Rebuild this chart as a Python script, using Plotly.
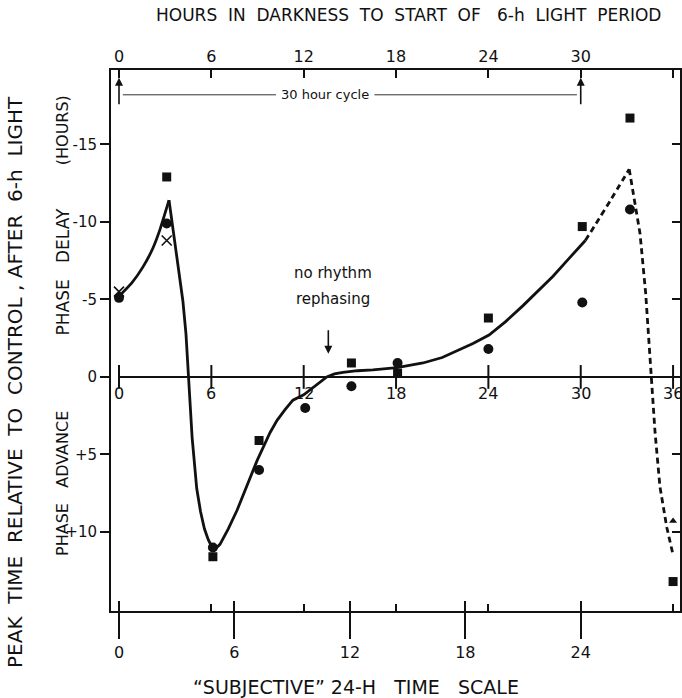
import plotly.graph_objects as go

# ---- data -------------------------------------------------------------
# hours in darkness before the 6-h light period
dark_ticks = [0, 6, 12, 18, 24, 30, 36]
# subjective 24-h scale (30 real hours = 24 subjective hours)
subj_ticks = [0, 6, 12, 18, 24]
subj_labels = ["0", "6", "12", "18", "24"]
subj_factor = 30 / 24

y_ticks = [-15, -10, -5, 0, 5, 10]
y_labels = ["-15", "-10", "-5", "0", "+5", "+10"]

# phase shifts (hours); negative = delay, positive = advance
sq_h = [3.1, 6.1, 9.1, 15.1, 18.1, 24.0, 30.1, 33.2, 36.0]
sq_v = [-12.9, 11.6, 4.1, -0.9, -0.25, -3.8, -9.7, -16.7, 13.2]

ci_h = [0.0, 3.1, 6.1, 9.1, 12.1, 15.1, 18.1, 24.0, 30.1, 33.2]
ci_v = [-5.1, -9.9, 11.0, 6.0, 2.0, 0.6, -0.9, -1.8, -4.8, -10.8]

x_h = [0.0, 3.1]
x_v = [-5.5, -8.8]

tri_h = [36.0]
tri_v = [9.3]

# fitted response curve, drawn piecewise
fit_a_h = [0.0, 0.82, 1.56, 2.2, 2.66, 3.25]
fit_a_v = [-5.2, -6.05, -7.1, -8.3, -9.5, -11.4]

fit_b_h = [3.25, 3.45, 3.65, 3.96, 4.15, 4.35, 4.5, 4.75, 5.05, 5.3, 5.55,
           5.8, 6.05, 6.3, 6.56, 7.1, 7.67, 8.3, 8.97, 9.81, 10.27, 10.8,
           11.3, 12.0, 12.8, 13.5, 14.0, 14.55, 15.5, 16.5, 18.06, 19.75,
           21.0, 21.96, 23.0, 24.04, 25.1, 26.25, 27.2, 28.2, 29.2, 30.3]
fit_b_v = [-11.4, -10.0, -8.6, -6.4, -4.9, -2.8, 0.0, 3.9, 7.2, 8.7, 9.8,
           10.5, 11.0, 11.05, 10.8, 9.8, 8.6, 7.0, 5.4, 3.6, 2.8, 2.1,
           1.5, 1.15, 0.55, 0.0, -0.2, -0.3, -0.4, -0.45, -0.6, -0.9,
           -1.25, -1.7, -2.15, -2.7, -3.55, -4.6, -5.5, -6.5, -7.6, -8.8]

fit_c_h = [30.3, 31.0, 32.0, 33.15]
fit_c_v = [-8.8, -9.9, -11.5, -13.4]

fit_d_h = [33.15, 33.42, 33.85, 34.22, 34.39, 34.61, 34.83, 35.15, 35.59, 35.98]
fit_d_v = [-13.4, -11.85, -9.27, -5.4, -2.8, 0.13, 3.6, 7.1, 9.7, 11.4]

cycle_start, cycle_end, cycle_y = 0, 30, -18.2
norhythm_h = 13.6

X_RANGE = [-0.52, 36.45]
Y_RANGE = [15.1, -19.8]
FONT = "DejaVu Sans"
INK = "#111111"

fig = go.Figure()

line_style = dict(color=INK, width=2.8)
fig.add_trace(go.Scatter(x=fit_a_h, y=fit_a_v, mode="lines",
                         line=dict(**line_style, shape="spline", smoothing=0.4)))
fig.add_trace(go.Scatter(x=fit_b_h, y=fit_b_v, mode="lines",
                         line=dict(**line_style, shape="linear")))
fig.add_trace(go.Scatter(x=fit_c_h, y=fit_c_v, mode="lines",
                         line=dict(**line_style, dash="6px,4px", shape="spline", smoothing=0.4)))
fig.add_trace(go.Scatter(x=fit_d_h, y=fit_d_v, mode="lines",
                         line=dict(**line_style, dash="6px,4px", shape="linear")))

# zero line with crossing ticks
fig.add_shape(type="line", x0=dark_ticks[0], x1=dark_ticks[-1], y0=0, y1=0,
              xref="x", yref="y", line=dict(color=INK, width=2))
fig.add_trace(go.Scatter(x=dark_ticks, y=[0] * len(dark_ticks), mode="markers",
                         marker=dict(symbol="line-ns", size=17,
                                     line=dict(color=INK, width=2))))
for h in dark_ticks:
    fig.add_annotation(x=h, y=0, text=str(h), showarrow=False, yshift=-17,
                       font=dict(family=FONT, size=16, color=INK))

# observations
fig.add_trace(go.Scatter(x=sq_h, y=sq_v, mode="markers",
                         marker=dict(symbol="square", size=9, color=INK)))
fig.add_trace(go.Scatter(x=ci_h, y=ci_v, mode="markers",
                         marker=dict(symbol="circle", size=10, color=INK)))
fig.add_trace(go.Scatter(x=x_h, y=x_v, mode="markers",
                         marker=dict(symbol="x-thin-open", size=10, color=INK,
                                     line=dict(color=INK, width=1.6))))
fig.add_trace(go.Scatter(x=tri_h, y=tri_v, mode="markers",
                         marker=dict(symbol="triangle-up", size=7, color=INK)))

# invisible traces so the overlay axes get drawn
for xa, ya in (("x2", "y"), ("x3", "y"), ("x", "y2")):
    fig.add_trace(go.Scatter(x=[X_RANGE[0]], y=[0], xaxis=xa, yaxis=ya,
                             mode="markers", marker=dict(opacity=0),
                             hoverinfo="skip"))

# 30 hour cycle bracket
fig.add_shape(type="line", x0=cycle_start + 0.25, x1=10.2, y0=cycle_y, y1=cycle_y,
              xref="x", yref="y", line=dict(color="#333", width=1))
fig.add_shape(type="line", x0=16.6, x1=cycle_end - 0.25, y0=cycle_y, y1=cycle_y,
              xref="x", yref="y", line=dict(color="#333", width=1))
for h in (cycle_start, cycle_end):
    fig.add_annotation(x=h, y=-19.3, ax=h, ay=-17.5, xref="x", yref="y",
                       axref="x", ayref="y", showarrow=True, arrowhead=2,
                       arrowsize=1, arrowwidth=1.6, arrowcolor=INK, text="")
fig.add_annotation(x=13.4, y=cycle_y, text="30 hour cycle", showarrow=False,
                   font=dict(family=FONT, size=13, color=INK))

# no rhythm rephasing
fig.add_annotation(x=13.9, y=-6.7, text="no rhythm", showarrow=False,
                   font=dict(family=FONT, size=15, color=INK))
fig.add_annotation(x=13.9, y=-5.0, text="rephasing", showarrow=False,
                   font=dict(family=FONT, size=15, color=INK))
fig.add_annotation(x=norhythm_h, y=-1.5, ax=norhythm_h, ay=-3.1, xref="x", yref="y",
                   axref="x", ayref="y", showarrow=True, arrowhead=2,
                   arrowsize=1, arrowwidth=1.6, arrowcolor=INK, text="")

# axis titles
def paper_text(x, y, text, size, angle=0):
    fig.add_annotation(xref="paper", yref="paper", x=x, y=y, text=text,
                       textangle=angle, showarrow=False, xanchor="center",
                       yanchor="middle",
                       font=dict(family=FONT, size=size, color=INK))

paper_text(0.522, 1.102, "HOURS  IN  DARKNESS  TO  START  OF   6-h  LIGHT  PERIOD", 17)
paper_text(0.431, -0.141, "\u201cSUBJECTIVE\u201d 24-H   TIME   SCALE", 19)
paper_text(-0.169, 0.423,
           "PEAK  TIME  RELATIVE  TO  CONTROL , AFTER  6-h  LIGHT", 20, -90)
paper_text(-0.085, 0.236, "PHASE   ADVANCE", 16, -90)
paper_text(-0.085, 0.627, "PHASE   DELAY", 17, -90)
paper_text(-0.085, 0.888, "(HOURS)", 16, -90)

tickfont = dict(family=FONT, size=16, color=INK)
fig.update_layout(
    width=682, height=698, autosize=False,
    margin=dict(l=111, r=2, t=70, b=87),
    paper_bgcolor="white", plot_bgcolor="white",
    showlegend=False,
    xaxis=dict(range=X_RANGE, showgrid=False, zeroline=False,
               showline=True, linecolor=INK, linewidth=2,
               tickmode="array", tickvals=[s * subj_factor for s in subj_ticks],
               ticktext=subj_labels, ticks="outside", ticklen=26, tickwidth=2,
               tickcolor=INK, tickfont=tickfont),
    xaxis2=dict(range=X_RANGE, overlaying="x", side="top", anchor="y",
                showgrid=False, zeroline=False, showline=True, linecolor=INK,
                linewidth=2, tickmode="array", tickvals=dark_ticks,
                ticktext=[str(t) for t in dark_ticks], ticks="inside",
                ticklen=8, tickwidth=1.5, tickcolor=INK, tickfont=tickfont),
    xaxis3=dict(range=X_RANGE, overlaying="x", side="bottom", anchor="y",
                showgrid=False, zeroline=False, showline=False,
                showticklabels=False, tickmode="array",
                tickvals=[s * subj_factor for s in subj_ticks],
                ticks="inside", ticklen=10, tickwidth=2, tickcolor=INK,
                minor=dict(tickmode="array", tickvals=dark_ticks[1:5] + [36],
                           ticks="inside", ticklen=7, tickwidth=1.5,
                           tickcolor=INK, showgrid=False)),
    yaxis=dict(range=Y_RANGE, showgrid=False, zeroline=False,
               showline=True, linecolor=INK, linewidth=2,
               tickmode="array", tickvals=y_ticks, ticktext=y_labels,
               ticks="outside", ticklen=9, tickwidth=2, tickcolor=INK,
               tickfont=dict(family=FONT, size=15, color=INK)),
    yaxis2=dict(range=Y_RANGE, overlaying="y", side="right", anchor="x",
                showgrid=False, zeroline=False, showline=True, linecolor=INK,
                linewidth=2, tickmode="array", tickvals=y_ticks,
                showticklabels=False, ticks="inside", ticklen=8,
                tickwidth=1.5, tickcolor=INK),
)

fig.write_html("out.html")
